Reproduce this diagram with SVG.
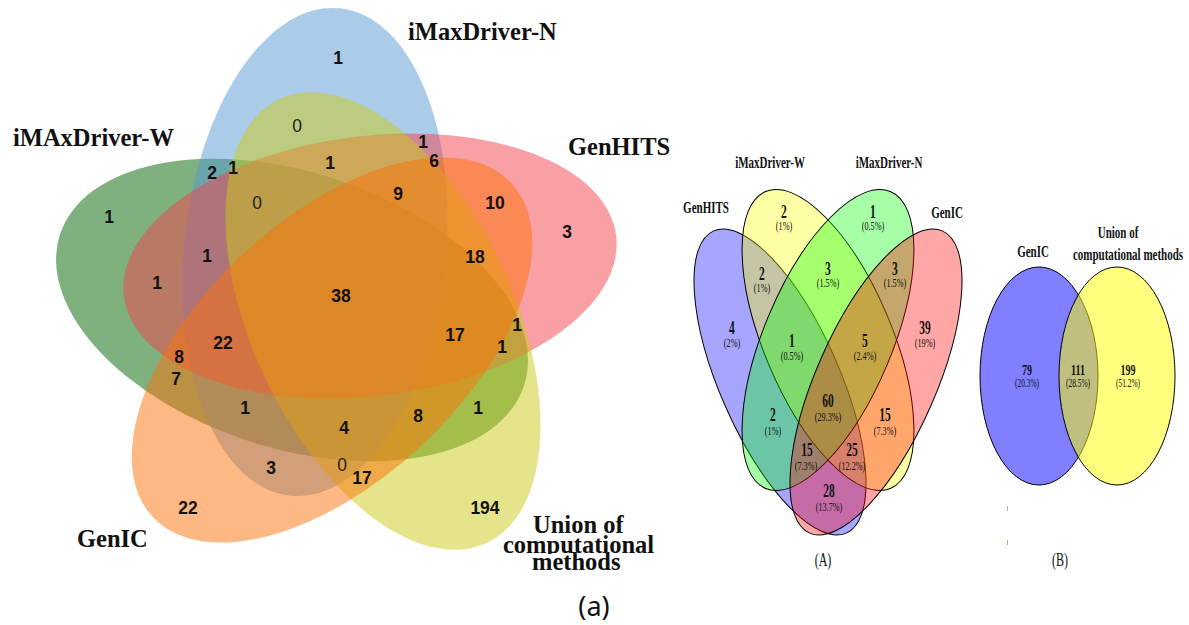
<svg xmlns="http://www.w3.org/2000/svg" width="1189" height="625" viewBox="0 0 1189 625">
  <style>
    .s5 { opacity: 0.5; }
    .n5 { font-family: "Liberation Sans", Arial, sans-serif; font-weight: bold; font-size: 17.5px; text-anchor: middle; fill: #111; }
    .z5 { font-family: "Liberation Sans", Arial, sans-serif; font-weight: normal; font-size: 17.5px; text-anchor: middle; fill: #222; }
    .t5 { font-family: "Liberation Serif", "Times New Roman", serif; font-weight: bold; font-size: 24.5px; fill: #111; }
    .cap { font-family: "Noto Sans", "Open Sans", sans-serif; font-size: 27px; text-anchor: middle; fill: #111; }
    .e4 { stroke: #000; stroke-width: 1; }
    .lab4 { font-family: "Liberation Serif", "Times New Roman", serif; font-weight: bold; font-size: 11px; text-anchor: middle; fill: #111; }
    .num4 { font-family: "Liberation Serif", "Times New Roman", serif; font-weight: bold; font-size: 11.5px; text-anchor: middle; fill: #111; }
    .pct4 { font-family: "Liberation Serif", "Times New Roman", serif; font-size: 8.2px; text-anchor: middle; fill: #111; }
    .numB { font-family: "Liberation Serif", "Times New Roman", serif; font-weight: bold; font-size: 10px; text-anchor: middle; fill: #111; }
    .pctB { font-family: "Liberation Serif", "Times New Roman", serif; font-size: 7.4px; text-anchor: middle; fill: #111; }
    .capAB { font-family: "Liberation Serif", "Times New Roman", serif; font-size: 12px; text-anchor: middle; fill: #111; }
  </style>

  <rect width="1189" height="625" fill="#fff"/>

  <!-- (a) five-set Venn diagram: ellipses drawn bottom to top -->
  <g id="venn5">
    <g id="set-imaxdriver-w"><ellipse class="s5" cx="292" cy="310" rx="244" ry="138" fill="#006400" transform="rotate(18 292 310)"/></g>
    <g id="set-imaxdriver-n"><ellipse class="s5" cx="315" cy="252" rx="245" ry="131" fill="#5599d3" transform="rotate(-84.2 315 252)"/></g>
    <g id="set-genhits"><ellipse class="s5" cx="370" cy="266" rx="248" ry="130" fill="#f3414b" transform="rotate(-7 370 266)"/></g>
    <g id="set-union"><ellipse class="s5" cx="383" cy="321" rx="245" ry="131" fill="#cbc917" transform="rotate(65 383 321)"/></g>
    <g id="set-genic"><ellipse class="s5" cx="332" cy="350" rx="245" ry="131" fill="#fb7107" transform="rotate(137 332 350)"/></g>
  </g>

  <g id="venn5-counts">
    <text class="n5" x="338" y="64">1</text>
    <text class="z5" x="297" y="132">0</text>
    <text class="n5" x="423" y="148">1</text>
    <text class="n5" x="434" y="167">6</text>
    <text class="n5" x="212" y="179">2</text>
    <text class="n5" x="233" y="174">1</text>
    <text class="n5" x="330" y="169">1</text>
    <text class="z5" x="257" y="209">0</text>
    <text class="n5" x="398" y="200">9</text>
    <text class="n5" x="495" y="209">10</text>
    <text class="n5" x="109" y="223">1</text>
    <text class="n5" x="567" y="238">3</text>
    <text class="n5" x="207" y="262">1</text>
    <text class="n5" x="475" y="263">18</text>
    <text class="n5" x="157" y="289">1</text>
    <text class="n5" x="341" y="302">38</text>
    <text class="n5" x="517" y="331">1</text>
    <text class="n5" x="455" y="341">17</text>
    <text class="n5" x="223" y="349">22</text>
    <text class="n5" x="502" y="353">1</text>
    <text class="n5" x="179" y="363">8</text>
    <text class="n5" x="176" y="385">7</text>
    <text class="n5" x="245" y="414">1</text>
    <text class="n5" x="478" y="414">1</text>
    <text class="n5" x="418" y="422">8</text>
    <text class="n5" x="344" y="434">4</text>
    <text class="z5" x="342" y="471">0</text>
    <text class="n5" x="271" y="474">3</text>
    <text class="n5" x="362" y="484">17</text>
    <text class="n5" x="188" y="514">22</text>
    <text class="n5" x="485" y="514">194</text>
  </g>

  <g id="venn5-titles">
    <text class="t5" x="408" y="40">iMaxDriver-N</text>
    <text class="t5" x="13" y="146">iMAxDriver-W</text>
    <text class="t5" x="568" y="155">GenHITS</text>
    <text class="t5" x="77" y="547">GenIC</text>
    <text class="t5" x="533" y="533">Union of</text>
    <rect x="502" y="536" width="154" height="18" fill="#fff"/>
    <text class="t5" x="503" y="553">computational</text>
    <rect x="528" y="554" width="94" height="18" fill="#fff"/>
    <text class="t5" x="532" y="570">methods</text>
    <text class="cap" x="594" y="616">(a)</text>
  </g>

  <!-- (A) four-set Venn diagram -->
  <g id="venn4">
    <g id="a-genhits"><ellipse class="e4" cx="780" cy="382" rx="165" ry="59.8" fill="rgb(0,0,255)" fill-opacity="0.35" transform="rotate(66.3 780 382)"/></g>
    <g id="a-imaxdriver-w"><ellipse class="e4" cx="828" cy="340" rx="161" ry="64.1" fill="rgb(255,255,0)" fill-opacity="0.35" transform="rotate(67.2 828 340)"/></g>
    <g id="a-imaxdriver-n"><ellipse class="e4" cx="828" cy="340" rx="161" ry="64.1" fill="rgb(0,255,0)" fill-opacity="0.35" transform="rotate(-67.2 828 340)"/></g>
    <g id="a-genic"><ellipse class="e4" cx="876" cy="382" rx="165" ry="59.8" fill="rgb(255,0,0)" fill-opacity="0.35" transform="rotate(-66.3 876 382)"/></g>
  </g>

  <g id="venn4-labels">
    <text class="lab4" transform="translate(706 213) scale(1 1.55)">GenHITS</text>
    <text class="lab4" transform="translate(770 168) scale(1 1.55)">iMaxDriver-W</text>
    <text class="lab4" transform="translate(889 168) scale(1 1.55)">iMaxDriver-N</text>
    <text class="lab4" transform="translate(947 218) scale(1 1.55)">GenIC</text>

    <text class="num4" transform="translate(784 218) scale(1 1.55)">2</text>
    <text class="pct4" transform="translate(784 230) scale(1 1.55)">(1%)</text>
    <text class="num4" transform="translate(873 218) scale(1 1.55)">1</text>
    <text class="pct4" transform="translate(873 230) scale(1 1.55)">(0.5%)</text>
    <text class="num4" transform="translate(762 280) scale(1 1.55)">2</text>
    <text class="pct4" transform="translate(762 292) scale(1 1.55)">(1%)</text>
    <text class="num4" transform="translate(828 275) scale(1 1.55)">3</text>
    <text class="pct4" transform="translate(828 287) scale(1 1.55)">(1.5%)</text>
    <text class="num4" transform="translate(895 275) scale(1 1.55)">3</text>
    <text class="pct4" transform="translate(895 287) scale(1 1.55)">(1.5%)</text>
    <text class="num4" transform="translate(732 334) scale(1 1.55)">4</text>
    <text class="pct4" transform="translate(732 347) scale(1 1.55)">(2%)</text>
    <text class="num4" transform="translate(792 347) scale(1 1.55)">1</text>
    <text class="pct4" transform="translate(792 360) scale(1 1.55)">(0.5%)</text>
    <text class="num4" transform="translate(865 347) scale(1 1.55)">5</text>
    <text class="pct4" transform="translate(865 360) scale(1 1.55)">(2.4%)</text>
    <text class="num4" transform="translate(925 334) scale(1 1.55)">39</text>
    <text class="pct4" transform="translate(925 347) scale(1 1.55)">(19%)</text>
    <text class="num4" transform="translate(773 421) scale(1 1.55)">2</text>
    <text class="pct4" transform="translate(773 435) scale(1 1.55)">(1%)</text>
    <text class="num4" transform="translate(828 407) scale(1 1.55)">60</text>
    <text class="pct4" transform="translate(828 421) scale(1 1.55)">(29.3%)</text>
    <text class="num4" transform="translate(885 421) scale(1 1.55)">15</text>
    <text class="pct4" transform="translate(885 435) scale(1 1.55)">(7.3%)</text>
    <text class="num4" transform="translate(807 456) scale(1 1.55)">15</text>
    <text class="pct4" transform="translate(806 470) scale(1 1.55)">(7.3%)</text>
    <text class="num4" transform="translate(852 456) scale(1 1.55)">25</text>
    <text class="pct4" transform="translate(852 470) scale(1 1.55)">(12.2%)</text>
    <text class="num4" transform="translate(829 497) scale(1 1.55)">28</text>
    <text class="pct4" transform="translate(829 511) scale(1 1.55)">(13.7%)</text>

    <text class="capAB" transform="translate(823 566) scale(1 1.55)">(A)</text>
  </g>

  <!-- (B) two-set Venn diagram -->
  <g id="venn2">
    <g id="b-genic"><ellipse class="e4" cx="1039" cy="376" rx="59" ry="109" fill="rgb(0,0,255)" fill-opacity="0.5"/></g>
    <g id="b-union"><ellipse class="e4" cx="1117" cy="376" rx="58" ry="109" fill="rgb(255,255,0)" fill-opacity="0.5"/></g>
  </g>

  <g id="venn2-labels">
    <text class="lab4" transform="translate(1033 257) scale(1 1.55)">GenIC</text>
    <text class="lab4" transform="translate(1118 238) scale(1 1.55)">Union of</text>
    <text class="lab4" transform="translate(1128 260) scale(1 1.55)">computational methods</text>

    <text class="numB" transform="translate(1027 375) scale(1 1.55)">79</text>
    <text class="pctB" transform="translate(1027 387) scale(1 1.55)">(20.3%)</text>
    <text class="numB" transform="translate(1078 375) scale(1 1.55)">111</text>
    <text class="pctB" transform="translate(1078 387) scale(1 1.55)">(28.5%)</text>
    <text class="numB" transform="translate(1128 375) scale(1 1.55)">199</text>
    <text class="pctB" transform="translate(1128 387) scale(1 1.55)">(51.2%)</text>

    <line x1="1007.5" y1="506" x2="1007.5" y2="511" stroke="#c9a584" stroke-width="1"/>
    <line x1="1007.5" y1="540" x2="1007.5" y2="545" stroke="#c9a584" stroke-width="1"/>

    <text class="capAB" transform="translate(1060 566) scale(1 1.55)">(B)</text>
  </g>
</svg>
